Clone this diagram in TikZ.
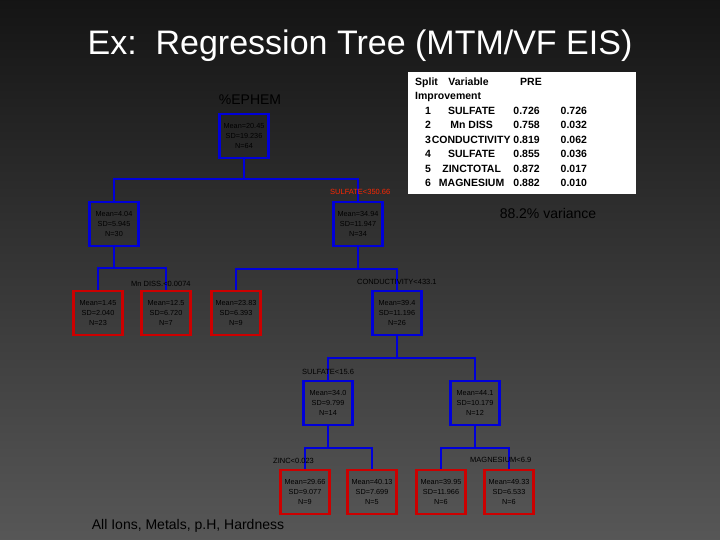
\documentclass[tikz,border=0pt]{standalone}
\usepackage{fontspec}
\setmainfont{Liberation Sans}
\begin{document}
\begin{tikzpicture}[x=1pt,y=-1pt,
  inner/.style={draw=blue!85!black,line width=2.2pt,minimum width=49pt,minimum height=44pt,inner sep=0pt,align=center,font=\fontsize{7.3}{10}\selectfont,text=black},
  leaf/.style={inner,draw=red!80!black},
  conn/.style={blue!85!black,line width=2.5pt},
  lbl/.style={font=\fontsize{7.5}{8}\selectfont,text=black,anchor=west,inner sep=0pt}]
\shade[top color=black!92,bottom color=black!66] (0,0) rectangle (720,540);
\useasboundingbox (0,0) rectangle (720,540);
\node[text=white,font=\fontsize{34}{38}\selectfont] (title) at (360,46) {Ex:\ \ Regression Tree (MTM/VF EIS)};
\node[text=black,font=\fontsize{14}{16}\selectfont] (ephem) at (250,100) {\%EPHEM};
\node[text=black,font=\fontsize{14}{16}\selectfont] (var) at (548,213) {88.2\% variance};
\node[text=black,font=\fontsize{14}{16}\selectfont] (all) at (188,526) {All Ions, Metals, p.H, Hardness};
% table
\node[fill=white,minimum width=228pt,minimum height=122pt,anchor=north west,inner sep=0pt] (tab) at (408,72) {};
\node[anchor=north west,inner sep=0pt,font=\bfseries\fontsize{10.5}{14.5}\selectfont,align=left] (tabt) at (415,75) {%
\begin{tabular}{@{}l@{}}Split\quad Variable\qquad\quad PRE\\ Improvement\end{tabular}};
\node[anchor=north west,inner sep=0pt,font=\bfseries\fontsize{10.5}{14.5}\selectfont] (tabb) at (425,104) {%
\begin{tabular}{@{}r@{\,}c@{\ }l@{\qquad}l@{}}
1&SULFATE&0.726&0.726\\
2&Mn DISS&0.758&0.032\\
3&\hspace{-1pt}CONDUCTIVITY\hspace{-3pt}&0.819&0.062\\
4&SULFATE&0.855&0.036\\
5&ZINCTOTAL&0.872&0.017\\
6&MAGNESIUM&0.882&0.010\end{tabular}};
% nodes
\node[inner] (root) at (244,136) {Mean=20.45\\SD=19.236\\N=64};
\node[inner] (l1) at (114,224) {Mean=4.04\\SD=5.945\\N=30};
\node[inner] (r1) at (358,224) {Mean=34.94\\SD=11.947\\N=34};
\node[leaf] (ll) at (98,313) {Mean=1.45\\SD=2.040\\N=23};
\node[leaf] (lr) at (166,313) {Mean=12.5\\SD=6.720\\N=7};
\node[leaf] (rl) at (236,313) {Mean=23.83\\SD=6.393\\N=9};
\node[inner] (rr) at (397,313) {Mean=39.4\\SD=11.196\\N=26};
\node[inner] (a) at (328,403) {Mean=34.0\\SD=9.799\\N=14};
\node[inner] (b) at (475,403) {Mean=44.1\\SD=10.179\\N=12};
\node[leaf] (a1) at (305,492) {Mean=29.66\\SD=9.077\\N=9};
\node[leaf] (a2) at (372,492) {Mean=40.13\\SD=7.699\\N=5};
\node[leaf] (b1) at (441,492) {Mean=39.95\\SD=11.966\\N=6};
\node[leaf] (b2) at (509,492) {Mean=49.33\\SD=6.533\\N=6};
% connectors
\draw[conn] (root.south) -- ++(0,20) -| (l1.north);
\draw[conn] (root.south) -- ++(0,20) -| (r1.north);
\draw[conn] (l1.south) |- (ll.north |- 0,268) -- (ll.north);
\draw[conn] (l1.south) |- (lr.north |- 0,268) -- (lr.north);
\draw[conn] (r1.south) |- (rl.north |- 0,269) -- (rl.north);
\draw[conn] (r1.south) |- (rr.north |- 0,269) -- (rr.north);
\draw[conn] (rr.south) |- (a.north |- 0,358) -- (a.north);
\draw[conn] (rr.south) |- (b.north |- 0,358) -- (b.north);
\draw[conn] (a.south) |- (a1.north |- 0,448) -- (a1.north);
\draw[conn] (a.south) |- (a2.north |- 0,448) -- (a2.north);
\draw[conn] (b.south) |- (b1.north |- 0,448) -- (b1.north);
\draw[conn] (b.south) |- (b2.north |- 0,448) -- (b2.north);
% labels
\node[lbl,text=red!70!orange] (s1) at (330,192) {SULFATE<350.66};
\node[lbl] (s2) at (131,284) {Mn DISS.<0.0074};
\node[lbl] (s3) at (357,282) {CONDUCTIVITY<433.1};
\node[lbl] (s4) at (302,372) {SULFATE<15.6};
\node[lbl] (s5) at (273,461) {ZINC<0.023};
\node[lbl] (s6) at (470,460) {MAGNESIUM<6.9};
\end{tikzpicture}
\end{document}
